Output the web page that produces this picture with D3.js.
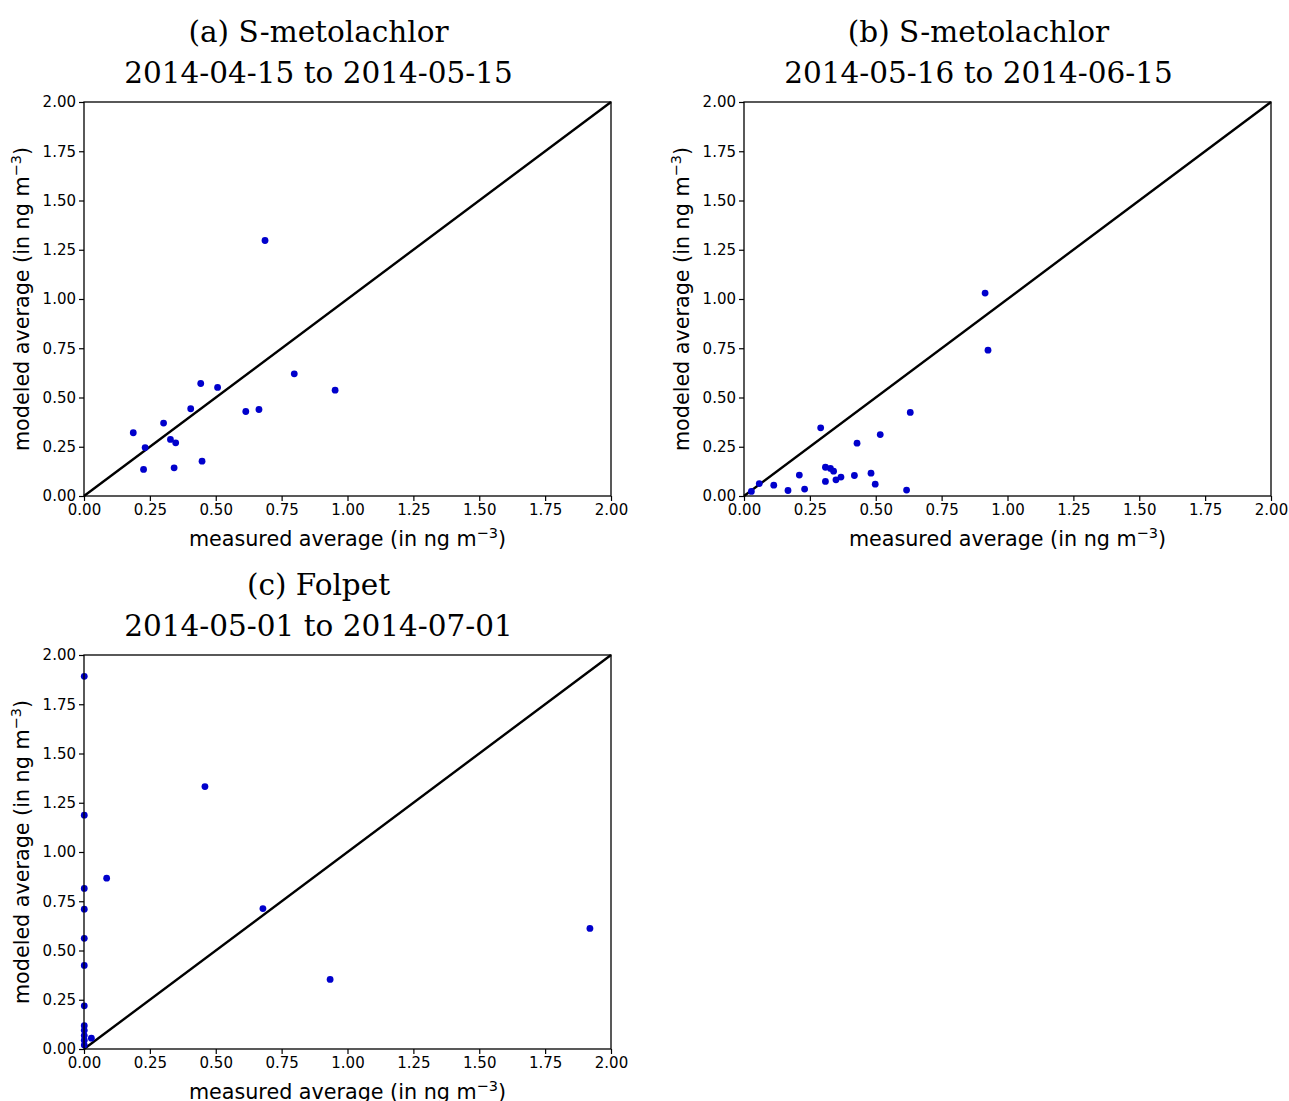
<!DOCTYPE html>
<html lang="en">
<head>
    <meta charset="UTF-8">
    <title>Modeled vs measured averages</title>
    <script src="https://d3js.org/d3.v7.min.js"></script>
    <style>
        body { margin: 0; background: #fff; }
        .tick text { font: 15px "DejaVu Sans", sans-serif; fill: #000; }
        .axis-label { font: 20.7px "DejaVu Sans", sans-serif; fill: #000; }
        .title { font: 29.5px "DejaVu Serif", serif; fill: #000; }
    </style>
</head>
<body>
<script>
    // panel (a) S-metolachlor 2014-04-15 to 2014-05-15
    const smetoAprX = [0.687, 0.798, 0.953, 0.443, 0.507, 0.405, 0.614, 0.664, 0.302, 0.187, 0.232, 0.328, 0.348, 0.226, 0.342, 0.448];
    const smetoAprY = [1.297, 0.620, 0.537, 0.571, 0.551, 0.443, 0.429, 0.439, 0.370, 0.321, 0.246, 0.287, 0.270, 0.135, 0.143, 0.177];

    // panel (b) S-metolachlor 2014-05-16 to 2014-06-15
    const smetoMayX = [0.915, 0.926, 0.631, 0.291, 0.517, 0.429, 0.309, 0.328, 0.340, 0.210, 0.419, 0.482, 0.368, 0.349, 0.309, 0.498, 0.058, 0.113, 0.230, 0.167, 0.617, 0.028];
    const smetoMayY = [1.030, 0.740, 0.424, 0.346, 0.312, 0.268, 0.146, 0.140, 0.126, 0.106, 0.104, 0.116, 0.096, 0.082, 0.074, 0.060, 0.063, 0.055, 0.035, 0.028, 0.030, 0.023];

    // panel (c) Folpet 2014-05-01 to 2014-07-01
    const folpetX = [0.001, 0.459, 0.001, 0.086, 0.001, 0.001, 0.001, 0.001, 0.001, 0.001, 0.001, 0.001, 0.001, 0.001, 0.028, 0.679, 0.934, 1.920];
    const folpetY = [1.892, 1.332, 1.187, 0.867, 0.815, 0.710, 0.562, 0.424, 0.219, 0.118, 0.095, 0.068, 0.045, 0.020, 0.055, 0.713, 0.353, 0.612];

    const tickValues = [0, 0.25, 0.5, 0.75, 1, 1.25, 1.5, 1.75, 2];
    const titles = [
        ["(a) S-metolachlor", "2014-04-15 to 2014-05-15"],
        ["(b) S-metolachlor", "2014-05-16 to 2014-06-15"],
        ["(c) Folpet", "2014-05-01 to 2014-07-01"]
    ];
    const xLabel = "measured average (in ng m";
    const yLabel = "modeled average (in ng m";

    const panels = [
        { x: smetoAprX, y: smetoAprY, left: 84, top: 102, title: titles[0] },
        { x: smetoMayX, y: smetoMayY, left: 744, top: 102, title: titles[1] },
        { x: folpetX, y: folpetY, left: 84, top: 655, title: titles[2] }
    ];
    const w = 527, h = 394;
    const titleX = w / 2 - 29;   // titles sit a bit left of the axes centre

    const svg = d3.select("body").append("svg")
        .attr("width", 1289)
        .attr("height", 1101);

    panels.forEach(p => {
        const g = svg.append("g").attr("transform", `translate(${p.left},${p.top})`);
        const x = d3.scaleLinear().domain([0, 2]).range([0, w]);
        const y = d3.scaleLinear().domain([0, 2]).range([h, 0]);

        // titles
        g.append("text").attr("class", "title")
            .attr("x", titleX).attr("y", -60)
            .attr("text-anchor", "middle")
            .text(p.title[0]);
        g.append("text").attr("class", "title")
            .attr("x", titleX).attr("y", -19)
            .attr("text-anchor", "middle")
            .text(p.title[1]);

        // diagonal 1:1
        g.append("line")
            .attr("x1", x(0)).attr("y1", y(0))
            .attr("x2", x(2)).attr("y2", y(2))
            .attr("stroke", "#000")
            .attr("stroke-width", 2.4);

        // points
        g.append("g")
            .selectAll("circle")
            .data(d3.range(p.x.length))
            .join("circle")
            .attr("cx", i => x(p.x[i]))
            .attr("cy", i => y(p.y[i]))
            .attr("r", 3.4)
            .attr("fill", "#0000cc");

        // axes
        const xAxis = g.append("g")
            .attr("transform", `translate(0,${h})`)
            .call(d3.axisBottom(x).tickValues(tickValues).tickFormat(d3.format(".2f")).tickSize(5).tickPadding(3));
        const yAxis = g.append("g")
            .call(d3.axisLeft(y).tickValues(tickValues).tickFormat(d3.format(".2f")).tickSize(5).tickPadding(3));
        [xAxis, yAxis].forEach(a => {
            a.select(".domain").remove();
            a.selectAll("line").attr("stroke", "#000").attr("stroke-width", 1.2);
        });

        // frame
        g.append("rect")
            .attr("width", w).attr("height", h)
            .attr("fill", "none")
            .attr("stroke", "#000")
            .attr("stroke-width", 1.3);

        // axis labels
        const xl = g.append("text").attr("class", "axis-label")
            .attr("x", w / 2).attr("y", h + 50)
            .attr("text-anchor", "middle");
        xl.append("tspan").text(xLabel);
        xl.append("tspan").attr("dy", -8).attr("font-size", 14.5).text("\u22123");
        xl.append("tspan").attr("dy", 8).text(")");

        const yl = g.append("text").attr("class", "axis-label")
            .attr("transform", `translate(-55,${h / 2}) rotate(-90)`)
            .attr("text-anchor", "middle");
        yl.append("tspan").text(yLabel);
        yl.append("tspan").attr("dy", -8).attr("font-size", 14.5).text("\u22123");
        yl.append("tspan").attr("dy", 8).text(")");
    });
</script>
</body>
</html>
